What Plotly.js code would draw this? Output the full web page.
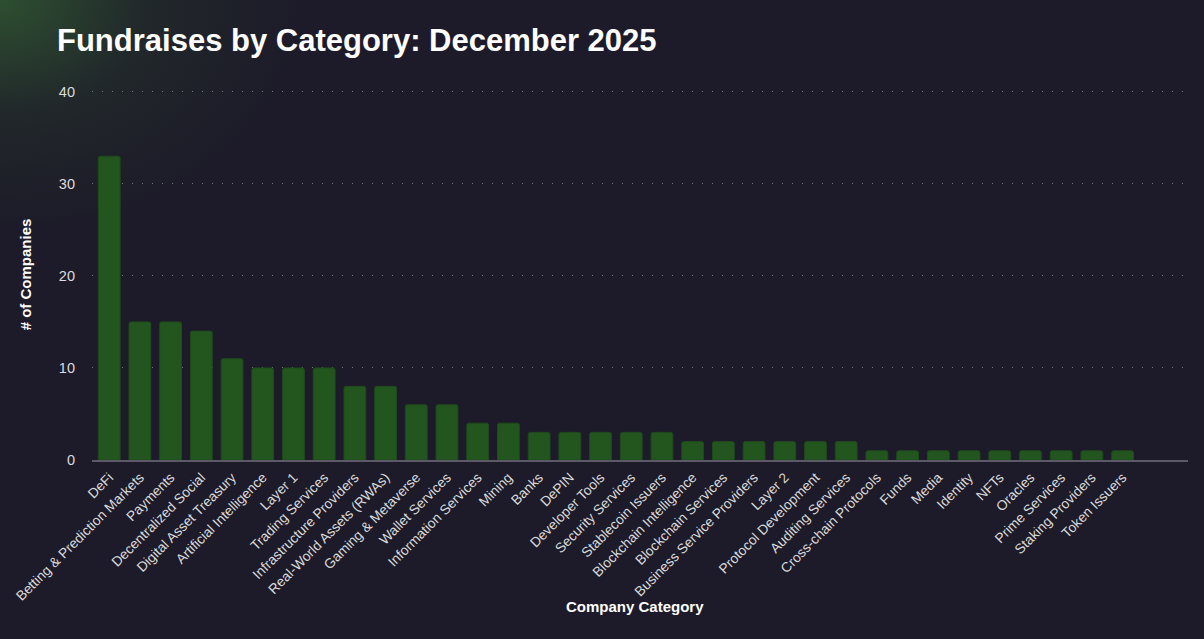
<!DOCTYPE html>
<html>
<head>
<meta charset="utf-8">
<script src="https://cdn.plot.ly/plotly-3.0.1.min.js"></script>
<style>
  html, body { margin: 0; padding: 0; width: 1204px; height: 639px; overflow: hidden; }
  body {
    background:
      radial-gradient(ellipse 300px 230px at 0px 0px, rgba(50,92,50,0.8) 0%, rgba(40,62,45,0.35) 50%, rgba(29,27,41,0) 100%),
      #1d1b29;
  }
  #chart { width: 1204px; height: 639px; }
</style>
</head>
<body>
<div id="chart"></div>
<script>
const categories = [
  "DeFi", "Betting & Prediction Markets", "Payments", "Decentralized Social",
  "Digital Asset Treasury", "Artificial Intelligence", "Layer 1", "Trading Services",
  "Infrastructure Providers", "Real-World Assets (RWAs)", "Gaming & Metaverse",
  "Wallet Services", "Information Services", "Mining", "Banks", "DePIN",
  "Developer Tools", "Security Services", "Stablecoin Issuers",
  "Blockchain Intelligence", "Blockchain Services", "Business Service Providers",
  "Layer 2", "Protocol Development", "Auditing Services", "Cross-chain Protocols",
  "Funds", "Media", "Identity", "NFTs", "Oracles", "Prime Services",
  "Staking Providers", "Token Issuers"
];
const companies = [
  33, 15, 15, 14,
  11, 10, 10, 10,
  8, 8, 6,
  6, 4, 4, 3, 3,
  3, 3, 3,
  2, 2, 2,
  2, 2, 2, 1,
  1, 1, 1, 1, 1, 1,
  1, 1
];
const yTicks = [0, 10, 20, 30, 40];

const trace = {
  type: "bar",
  x: categories,
  y: companies,
  marker: { color: "#23561f", line: { color: "#1f4a1c", width: 1 }, cornerradius: 2 },
  hoverinfo: "x+y"
};

const plotTop = 88.7, plotBottom = 460;
const plotH = plotBottom - plotTop;

const layout = {
  width: 1204,
  height: 639,
  paper_bgcolor: "rgba(0,0,0,0)",
  plot_bgcolor: "rgba(0,0,0,0)",
  margin: { l: 92, r: 16, t: plotTop, b: 639 - plotBottom, autoexpand: false },
  bargap: 0.29,
  showlegend: false,
  font: { family: "Liberation Sans, Arial, sans-serif", color: "#e6e6e6" },
  title: {
    text: "<b>Fundraises by Category: December 2025</b>",
    font: { family: "Liberation Sans, Arial, sans-serif", size: 31, color: "#ffffff" },
    xref: "container", yref: "container",
    x: 57 / 1204, xanchor: "left",
    y: 1 - 29 / 639, yanchor: "top"
  },
  xaxis: {
    type: "category",
    range: [-0.56, 35.13],
    tickangle: -45,
    tickfont: { size: 13.8, color: "#d9d9d9", family: "Liberation Sans, Arial, sans-serif" },
    showgrid: false,
    zeroline: false,
    showline: true,
    linecolor: "#5c5a66",
    linewidth: 2,
    ticks: "",
    ticklabelstandoff: 2,
    fixedrange: true
  },
  yaxis: {
    range: [0, 40.3],
    tickvals: yTicks,
    ticktext: yTicks.map(String),
    tickfont: { size: 14.5, color: "#dcdcdc", family: "Liberation Sans, Arial, sans-serif" },
    showgrid: true,
    gridcolor: "#76747f",
    gridwidth: 1,
    griddash: "1px,9px",
    zeroline: false,
    showline: false,
    ticks: "",
    ticklabelstandoff: 16,
    title: {
      text: "<b># of Companies</b>",
      font: { size: 15, color: "#ffffff", family: "Liberation Sans, Arial, sans-serif" },
      standoff: 23
    },
    fixedrange: true
  },
  annotations: [{
    text: "<b>Company Category</b>",
    xref: "paper", yref: "paper",
    x: 0.495, y: -(607 - plotBottom) / plotH,
    xanchor: "center", yanchor: "middle",
    showarrow: false,
    font: { size: 15, color: "#ffffff", family: "Liberation Sans, Arial, sans-serif" }
  }]
};

Plotly.newPlot("chart", [trace], layout, { displayModeBar: false });
</script>
</body>
</html>
